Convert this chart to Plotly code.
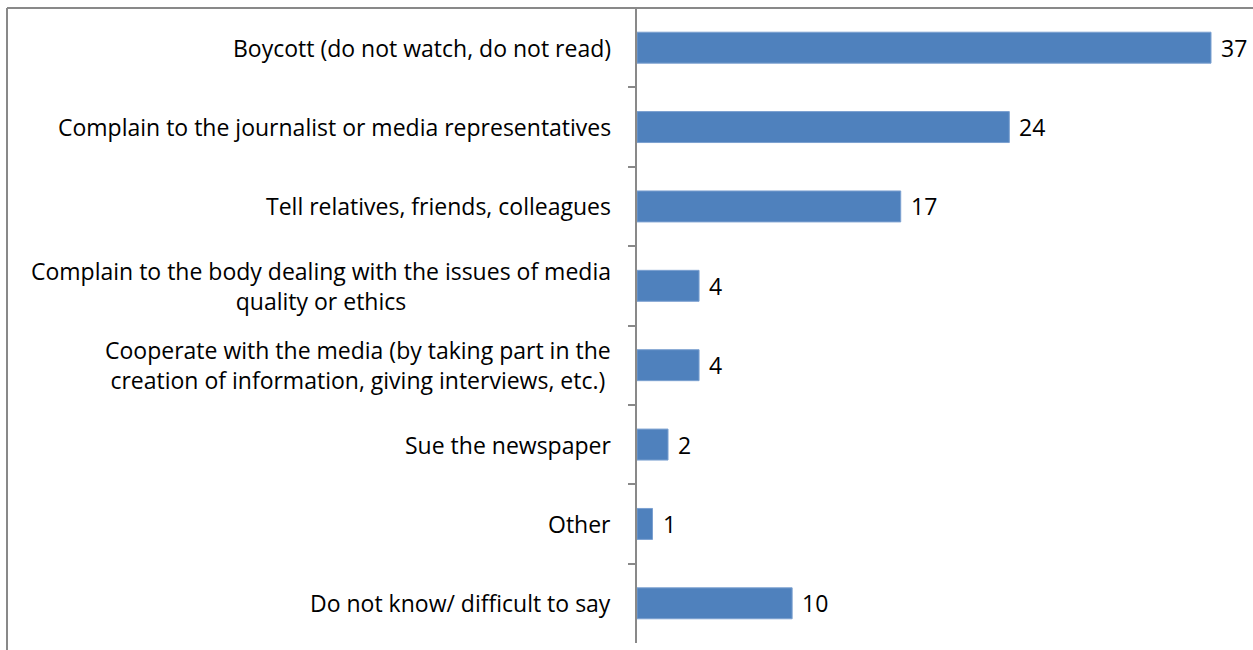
import plotly.graph_objects as go

# Survey responses: what people would do about poor media content (%)
categories = [
    "Boycott (do not watch, do not read)",
    "Complain to the journalist or media representatives",
    "Tell relatives, friends, colleagues",
    "Complain to the body dealing with the issues of media<br>quality or ethics",
    "Cooperate with the media (by taking part in the<br>creation of information, giving interviews, etc.)",
    "Sue the newspaper",
    "Other",
    "Do not know/ difficult to say",
]
values = [37, 24, 17, 4, 4, 2, 1, 10]

W, H = 1253, 650
ML, MR, MT, MB = 637, 0, 8, 7
FONT = "Open Sans"
FSIZE = 23
BAR_COLOR = "#4F81BD"
AXIS_GRAY = "#898989"

fig = go.Figure(
    go.Bar(
        x=values,
        y=categories,
        orientation="h",
        marker=dict(color=BAR_COLOR, line=dict(color="#7BA0D0", width=1)),
        width=0.39,
        hoverinfo="skip",
    )
)

# value labels to the right of each bar
for cat, val in zip(categories, values):
    fig.add_annotation(
        x=val, y=cat, text=str(val), showarrow=False,
        xanchor="left", yanchor="middle", xshift=8,
        font=dict(family=FONT, size=FSIZE, color="#000000"),
    )

# category labels, each line centred within its block, right edge near the axis
for cat in categories:
    fig.add_annotation(
        x=0, y=cat, xref="paper", text=cat, showarrow=False,
        xanchor="right", yanchor="middle", align="center", xshift=-24,
        font=dict(family=FONT, size=FSIZE, color="#000000"),
    )

# outer chart frame (left and top edges)
plot_w = W - ML - MR
plot_h = H - MT - MB
x_left = (7 - ML) / plot_w
fig.add_shape(type="line", xref="paper", yref="paper",
              x0=x_left, x1=1.05, y0=1, y1=1,
              line=dict(color=AXIS_GRAY, width=2))
fig.add_shape(type="line", xref="paper", yref="paper",
              x0=x_left, x1=x_left, y0=1, y1=-0.1,
              line=dict(color=AXIS_GRAY, width=2))

fig.update_layout(
    width=W, height=H,
    margin=dict(l=ML, r=MR, t=MT, b=MB),
    paper_bgcolor="white", plot_bgcolor="white",
    showlegend=False,
    xaxis=dict(range=[0, 37 * plot_w / 574], showgrid=False, zeroline=False,
               showticklabels=False, showline=False, fixedrange=True),
    yaxis=dict(
        type="category", categoryorder="array", categoryarray=categories,
        autorange="reversed", showgrid=False, zeroline=False,
        showline=True, linecolor=AXIS_GRAY, linewidth=2,
        ticks="outside", tickson="boundaries", ticklen=7,
        tickcolor=AXIS_GRAY, tickwidth=2, showticklabels=False,
    ),
)

fig.write_html("out.html")
